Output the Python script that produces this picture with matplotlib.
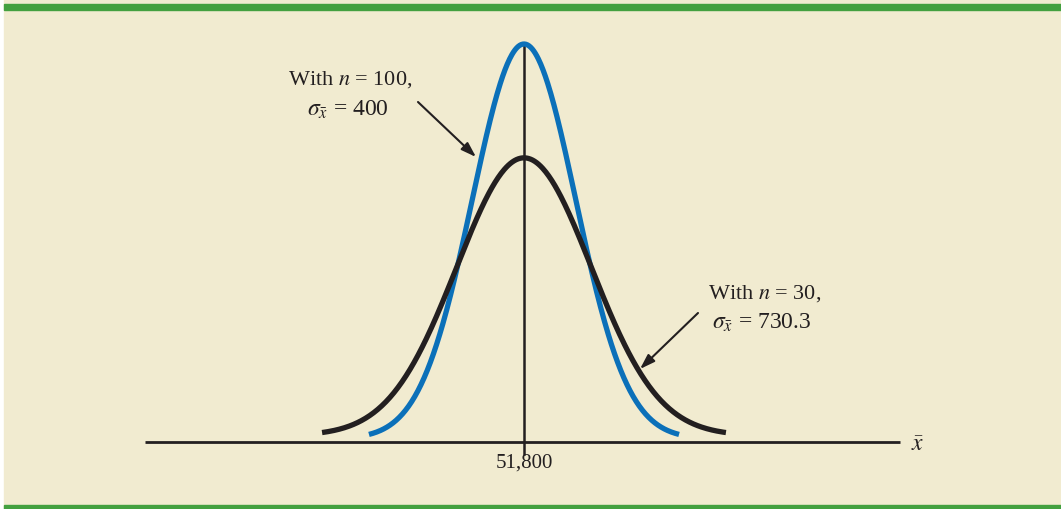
import numpy as np
import matplotlib.pyplot as plt
from matplotlib.patches import Rectangle

# Werte aus der Grafik
mean = 51800
n_values = [100, 30]
sigma_xbar = [400, 730.3]
curve_colors = ['#0b70b9', '#231f20']

# Zeichnung ist schematisch: Breite/Höhe der Kurven wie im Original
draw_sd = [400, 521]       # gezeichnete Standardabweichung (in $ der x-Achse)
draw_peak = [1.0, 0.714]   # relative Höhe des Maximums
draw_base = [0.008, 0.016] # Kurvenenden liegen etwas über der Achse

W, H = 1061, 510
DPPX = 7.74  # Dollar pro Pixel
BG = '#f1ebd0'
GREEN = '#43a03f'

fig = plt.figure(figsize=(W / 100, H / 100), dpi=100)
fig.patch.set_facecolor('white')
plt.rcParams['mathtext.fontset'] = 'stix'
serif = ['Liberation Serif', 'DejaVu Serif']

# Hintergrund und grüne Balken
fig.patches.append(Rectangle((4 / W, 0), 1, 1, transform=fig.transFigure, color=BG, zorder=-10))
fig.patches.append(Rectangle((4 / W, 1 - 11 / H), 1, 6 / H, transform=fig.transFigure, color=GREEN, zorder=-9))
fig.patches.append(Rectangle((4 / W, 0), 1, 4.5 / H, transform=fig.transFigure, color=GREEN, zorder=-9))

ax = fig.add_axes([0, 0, 1, 1])
ax.set_facecolor('none')
ax.axis('off')
ax.set_xlim(mean - 524 * DPPX, mean + 537 * DPPX)
ax.set_ylim(-(H - 443) / 398, 443 / 398)

# x-Achse und Mittelwertlinie
ax.plot([mean - 2935, mean + 2910], [0, 0], color='#231f20', lw=2, solid_capstyle='butt')
ax.plot([mean, mean], [-0.03, 1.0], color='#231f20', lw=1.8)

# Normalverteilungskurven, jeweils ueber +-3 Standardabweichungen
z = np.linspace(-3, 3, 400)
for sd, pk, base, col in zip(draw_sd, draw_peak, draw_base, curve_colors):
    x = mean + z * sd
    y = base + (pk - base) * np.exp(-0.5 * z ** 2)
    ax.plot(x, y, color=col, lw=3.8, solid_capstyle='butt')

ax.text(mean, -0.05, f'{mean:,}', ha='center', va='center', fontsize=15, family=serif, color='#231f20')
ax.text(918 / W, 1 - 444 / H, r'$\bar{x}$', transform=ax.transAxes, ha='center', va='center',
        fontsize=17, color='#231f20')

# Beschriftungen mit Pfeilen
txt_kw = dict(transform=ax.transAxes, ha='center', va='center', family=serif, color='#231f20')
ax.text(350 / W, 1 - 80 / H, f'With $n$ = {n_values[0]},', fontsize=16, **txt_kw)
ax.text(348 / W, 1 - 110 / H, r'$\sigma_{\bar{x}}$' + f' = {sigma_xbar[0]}', fontsize=17, **txt_kw)
ax.text(765 / W, 1 - 294 / H, f'With $n$ = {n_values[1]},', fontsize=16, **txt_kw)
ax.text(762 / W, 1 - 323 / H, r'$\sigma_{\bar{x}}$' + f' = {sigma_xbar[1]}', fontsize=17, **txt_kw)

arrow = dict(arrowstyle='-|>,head_length=0.9,head_width=0.3', color='#231f20', lw=1.5, shrinkA=0, shrinkB=0)
ax.annotate('', xy=(476 / W, 1 - 158 / H), xytext=(418 / W, 1 - 103 / H),
            xycoords='axes fraction', textcoords='axes fraction', arrowprops=arrow)
ax.annotate('', xy=(640 / W, 1 - 370 / H), xytext=(698 / W, 1 - 314 / H),
            xycoords='axes fraction', textcoords='axes fraction', arrowprops=arrow)

fig.savefig('out.png', dpi=100)
